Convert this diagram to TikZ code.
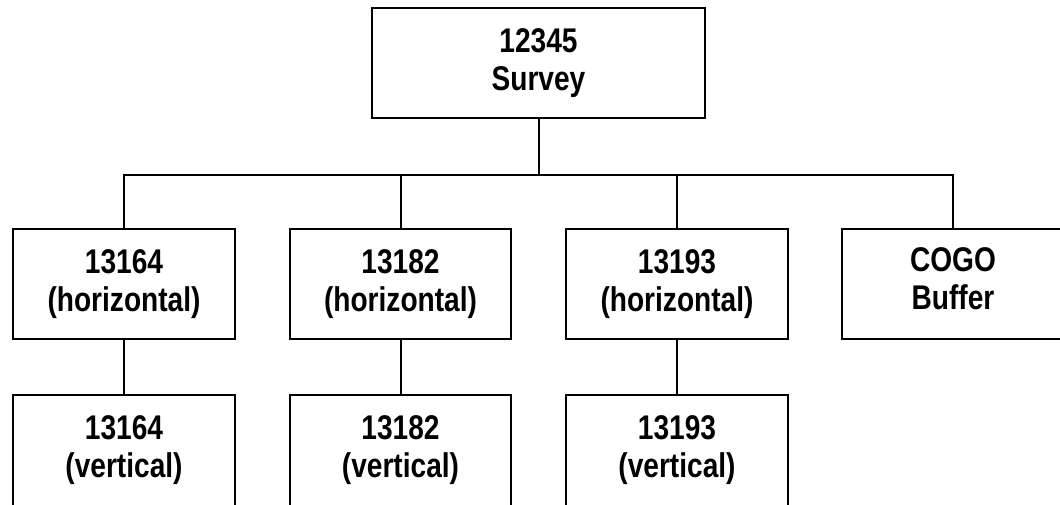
\documentclass[tikz,border=0pt]{standalone}
\usepackage{fontspec}
\setmainfont[FakeStretch=0.88, BoldFeatures={FakeStretch=0.82}]{Liberation Sans}
\usepackage{tikz}

\tikzset{
  box/.style={draw=black, line width=0.04cm, minimum width=4.44cm, minimum height=2.22cm,
    align=center, font=\fontsize{19.5}{21.5}\selectfont\bfseries, inner sep=0pt},
  wire/.style={black, line width=0.04cm}
}

\begin{document}
\begin{tikzpicture}[x=0.02cm, y=-0.02cm]
\useasboundingbox (0,0) rectangle (1060,504);
\clip (0,0) rectangle (1060,504);
% top box
\node[box, minimum width=6.66cm, minimum height=2.2cm] (survey) at (538.5,63) {12345\\Survey};
% horizontal row
\node[box] (h1) at (124,284) {13164\\(horizontal)};
\node[box] (h2) at (400.5,284) {13182\\(horizontal)};
\node[box] (h3) at (677,284) {13193\\(horizontal)};
\node[box] (cogo) at (953,284) {COGO\\Buffer\strut};
% vertical row
\node[box] (v1) at (124,450) {13164\\(vertical)};
\node[box] (v2) at (400.5,450) {13182\\(vertical)};
\node[box] (v3) at (677,450) {13193\\(vertical)};
\coordinate (bus) at (538.5,175);
\draw[wire] (survey.south) -- (bus);
\draw[wire] (h1.north) |- (bus) -| (cogo.north);
\draw[wire] (h2.north) -- (h2.north |- bus);
\draw[wire] (h3.north) -- (h3.north |- bus);
\foreach \i in {1,2,3}{
  \draw[wire] (h\i.south) -- (v\i.north);
}
\end{tikzpicture}
\end{document}
